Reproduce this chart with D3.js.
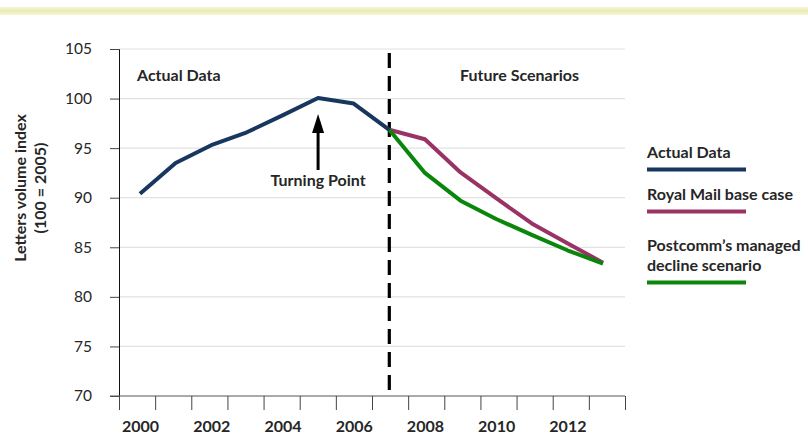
<!DOCTYPE html>
<html>
<head>
<meta charset="utf-8">
<script src="https://cdn.jsdelivr.net/npm/d3@7"></script>
<style>
  body { margin: 0; background: #fff; }
  text { font-family: Lato, "Open Sans", sans-serif; fill: #262626; }
</style>
</head>
<body>
<div id="container"></div>
<script>
// years on the category axis
var years = [2000, 2001, 2002, 2003, 2004, 2005, 2006, 2007, 2008, 2009, 2010, 2011, 2012, 2013];
var yearLabels = [2000, 2002, 2004, 2006, 2008, 2010, 2012];
var yTicks = [70, 75, 80, 85, 90, 95, 100, 105];

// series
var actualYears = [2000, 2001, 2002, 2003, 2004, 2005, 2006, 2007];
var actualValues = [90.4, 93.5, 95.3, 96.6, 98.3, 100.05, 99.5, 96.85];
var scenarioYears = [2007, 2008, 2009, 2010, 2011, 2012, 2013];
var royalMailValues = [96.85, 95.9, 92.55, 89.95, 87.4, 85.4, 83.45];
var postcommValues = [96.85, 92.5, 89.7, 87.85, 86.25, 84.7, 83.35];

var legendItems = [
  {label: ["Actual Data"], color: "#17375e"},
  {label: ["Royal Mail base case"], color: "#993366"},
  {label: ["Postcomm\u2019s managed", "decline scenario"], color: "#0a860a"}
];

var W = 808, H = 437;
var plotLeft = 119, plotRight = 625, plotTop = 49, plotBottom = 396;
var labelSize = "16px";

var svg = d3.select("#container").append("svg")
    .attr("width", W).attr("height", H);

// pale yellow band across the top
var grad = svg.append("defs").append("linearGradient")
    .attr("id", "band").attr("x1", 0).attr("x2", 0).attr("y1", 0).attr("y2", 1);
grad.append("stop").attr("offset", "0%").attr("stop-color", "#f6f6d8");
grad.append("stop").attr("offset", "50%").attr("stop-color", "#ebebb4");
grad.append("stop").attr("offset", "100%").attr("stop-color", "#f6f6d8");
svg.append("rect").attr("x", 0).attr("y", 7).attr("width", W).attr("height", 8)
    .attr("fill", "url(#band)");

// tick marks sit on category edges, points and labels a little inside
var xEdge = d3.scaleLinear().domain([0, years.length]).range([plotLeft, plotRight]);
var x = d3.scalePoint().domain(years).range([140, 603]);
var y = d3.scaleLinear().domain([70, 105]).range([plotBottom, plotTop]);

// gridlines
svg.append("g").selectAll("line")
    .data(yTicks.slice(1))
    .enter().append("line")
    .attr("x1", plotLeft).attr("x2", plotRight)
    .attr("y1", function(d) { return y(d); })
    .attr("y2", function(d) { return y(d); })
    .attr("stroke", "#e2e2e2").attr("stroke-width", 1.2);

// y axis
var yAxis = svg.append("g")
    .attr("transform", "translate(" + plotLeft + ",0)")
    .call(d3.axisLeft(y).tickValues(yTicks).tickSize(9).tickPadding(18));
yAxis.select(".domain").attr("stroke", "#111");
yAxis.selectAll(".tick line").attr("stroke", "#444");
yAxis.selectAll("text").style("font-size", "15.5px").style("font-family", "Lato, sans-serif").attr("fill", "#333");

// x axis: ticks on category edges, labels under every second year
var xAxis = svg.append("g")
    .attr("transform", "translate(0," + plotBottom + ")")
    .call(d3.axisBottom(xEdge).tickValues(d3.range(years.length + 1)).tickSize(14).tickFormat(""));
xAxis.select(".domain").attr("stroke", "#555").attr("d", "M" + (plotLeft - 9) + ",0H" + plotRight);
xAxis.selectAll(".tick line").attr("stroke", "#444");

var xLabels = svg.append("g")
    .attr("transform", "translate(0," + plotBottom + ")")
    .call(d3.axisBottom(x).tickValues(yearLabels).tickSize(0).tickPadding(25));
xLabels.select(".domain").remove();
xLabels.selectAll("text").style("font-size", labelSize).style("font-weight", "bold")
    .style("font-family", "Lato, sans-serif").attr("fill", "#262626");

// y axis title
var yTitle = svg.append("text")
    .attr("transform", "translate(26,188) rotate(-90)")
    .attr("text-anchor", "middle")
    .style("font-size", labelSize).style("font-weight", "bold");
yTitle.append("tspan").attr("x", 0).attr("dy", 0).text("Letters volume index");
yTitle.append("tspan").attr("x", 0).attr("dy", 20).text("(100 = 2005)");

// dashed divider at 2007
svg.append("line")
    .attr("x1", x(2007)).attr("x2", x(2007))
    .attr("y1", 53).attr("y2", plotBottom)
    .attr("stroke", "#000").attr("stroke-width", 3.2)
    .attr("stroke-dasharray", "15,8");

// lines
var line = d3.line()
    .x(function(d) { return x(d[0]); })
    .y(function(d) { return y(d[1]); });

var series = [
  {years: scenarioYears, values: royalMailValues, color: legendItems[1].color},
  {years: scenarioYears, values: postcommValues, color: legendItems[2].color},
  {years: actualYears, values: actualValues, color: legendItems[0].color}
];

svg.append("g").selectAll("path")
    .data(series)
    .enter().append("path")
    .attr("d", function(s) { return line(d3.zip(s.years, s.values)); })
    .attr("fill", "none")
    .attr("stroke", function(s) { return s.color; })
    .attr("stroke-width", 4)
    .attr("stroke-linejoin", "round");

// section labels
svg.append("text").attr("x", 137).attr("y", 81)
    .style("font-size", labelSize).style("font-weight", "bold").text("Actual Data");
svg.append("text").attr("x", 460).attr("y", 81)
    .style("font-size", labelSize).style("font-weight", "bold").text("Future Scenarios");

// turning point arrow
var tpX = x(2005);
svg.append("line")
    .attr("x1", tpX).attr("x2", tpX)
    .attr("y1", 170).attr("y2", 130)
    .attr("stroke", "#000").attr("stroke-width", 3);
svg.append("path")
    .attr("d", "M" + tpX + ",114L" + (tpX - 6) + ",133L" + (tpX + 6) + ",133Z")
    .attr("fill", "#000");
svg.append("text").attr("x", tpX).attr("y", 186)
    .attr("text-anchor", "middle")
    .style("font-size", labelSize).style("font-weight", "bold").text("Turning Point");

// legend
var legendY = [158, 200, 251];
var lg = svg.append("g").selectAll("g")
    .data(legendItems)
    .enter().append("g")
    .attr("transform", function(d, i) { return "translate(647," + legendY[i] + ")"; });

lg.append("text")
    .style("font-size", labelSize).style("font-weight", "bold")
    .each(function(d) {
      var t = d3.select(this);
      d.label.forEach(function(s, j) {
        t.append("tspan").attr("x", 0).attr("dy", j ? 20 : 0).text(s);
      });
    });

lg.append("line")
    .attr("x1", 0).attr("x2", 99)
    .attr("y1", function(d) { return 11.5 + (d.label.length - 1) * 20; })
    .attr("y2", function(d) { return 11.5 + (d.label.length - 1) * 20; })
    .attr("stroke", function(d) { return d.color; })
    .attr("stroke-width", 4);
</script>
</body>
</html>
